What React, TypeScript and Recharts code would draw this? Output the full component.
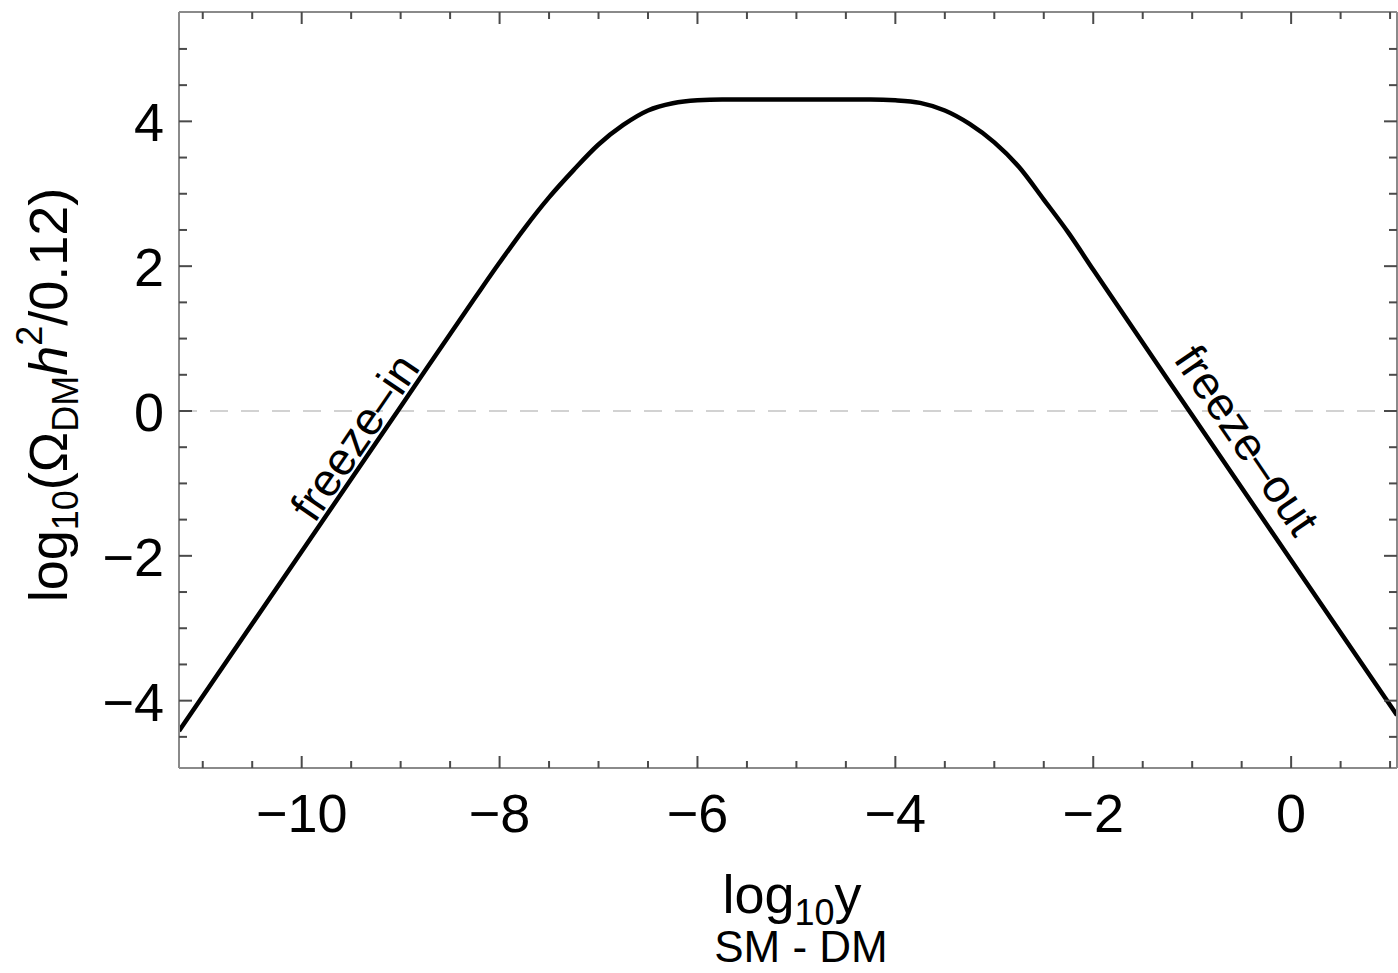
import React from "react";
import { LineChart, Line, XAxis, YAxis, ReferenceLine, ReferenceDot } from "recharts";

// log10 y
const xValues = [-11.24, -10, -9, -8.25, -8, -7.75, -7.5, -7.25, -7, -6.75, -6.5, -6.25, -6, -5.75, -5, -4.25, -4, -3.75, -3.5, -3.25, -3, -2.75, -2.5, -2.25, -2, -1, 0, 1.07];
// log10(Omega_DM h^2 / 0.12)
const omegaValues = [-4.42, -1.94, 0.06, 1.56, 2.05, 2.52, 2.95, 3.33, 3.68, 3.95, 4.15, 4.25, 4.29, 4.3, 4.3, 4.3, 4.29, 4.255, 4.15, 3.965, 3.71, 3.37, 2.92, 2.46, 1.95, -0.06, -2.06, -4.2];

const xDomain = [-11.24, 1.07];
const yDomain = [-4.93, 5.51];
const xMajorTicks = [-10, -8, -6, -4, -2, 0];
const xAllTicks = [-11, -10.5, -10, -9.5, -9, -8.5, -8, -7.5, -7, -6.5, -6, -5.5, -5, -4.5, -4, -3.5, -3, -2.5, -2, -1.5, -1, -0.5, 0, 0.5, 1];
const yMajorTicks = [-4, -2, 0, 2, 4];
const yAllTicks = [-4.5, -4, -3.5, -3, -2.5, -2, -1.5, -1, -0.5, 0, 0.5, 1, 1.5, 2, 2.5, 3, 3.5, 4, 4.5, 5];

const annotations = [
  { text: "freeze–in", x: -9.465, y: -0.36, angle: -55.7 },
  { text: "freeze–out", x: -0.445, y: -0.4, angle: 55.7 },
];

const data = xValues.map((x, i) => ({ x, omega: omegaValues[i] }));

const FONT = "'Liberation Sans', Arial, sans-serif";
const FRAME = "#8a8a8a";
const TICK = "#4a4a4a";

const fmt = (v: number) => (v < 0 ? "\u2212" + Math.abs(v) : String(v));

const BottomTick = (props: any) => {
  const { x, y, payload } = props;
  const major = xMajorTicks.includes(payload.value);
  return (
    <g>
      <line x1={x} y1={y} x2={x} y2={y - (major ? 12 : 7)} stroke={TICK} strokeWidth={2} />
      {major && (
        <text x={x} y={y + 64} textAnchor="middle" fontSize={54} fontFamily={FONT} fill="#000">
          {fmt(payload.value)}
        </text>
      )}
    </g>
  );
};

const TopTick = (props: any) => {
  const { x, y, payload } = props;
  const major = xMajorTicks.includes(payload.value);
  return <line x1={x} y1={y} x2={x} y2={y + (major ? 12 : 7)} stroke={TICK} strokeWidth={2} />;
};

const LeftTick = (props: any) => {
  const { x, y, payload } = props;
  const major = yMajorTicks.includes(payload.value);
  return (
    <g>
      <line x1={x} y1={y} x2={x + (major ? 13 : 8)} y2={y} stroke={TICK} strokeWidth={2} />
      {major && (
        <text x={x - 15} y={y + 20} textAnchor="end" fontSize={54} fontFamily={FONT} fill="#000">
          {fmt(payload.value)}
        </text>
      )}
    </g>
  );
};

const RightTick = (props: any) => {
  const { x, y, payload } = props;
  const major = yMajorTicks.includes(payload.value);
  return <line x1={x} y1={y} x2={x - (major ? 13 : 8)} y2={y} stroke={TICK} strokeWidth={2} />;
};

export default function App() {
  return (
    <div style={{ position: "absolute", left: 0, top: 0, width: 1398, height: 973, background: "#fff" }}>
      <LineChart width={1398} height={973} data={data} margin={{ top: 11, right: 0, bottom: 204, left: 178 }}>
        <XAxis
          xAxisId="main"
          dataKey="x"
          type="number"
          domain={xDomain}
          allowDataOverflow
          ticks={xAllTicks}
          interval={0}
          height={1}
          tickSize={0}
          tickMargin={0}
          tickLine={false}
          tick={<BottomTick />}
          axisLine={{ stroke: FRAME, strokeWidth: 2 }}
        />
        <XAxis
          xAxisId="top"
          orientation="top"
          dataKey="x"
          type="number"
          domain={xDomain}
          allowDataOverflow
          ticks={xAllTicks}
          interval={0}
          height={1}
          tickSize={0}
          tickMargin={0}
          tickLine={false}
          tick={<TopTick />}
          axisLine={{ stroke: FRAME, strokeWidth: 2 }}
        />
        <YAxis
          yAxisId="main"
          type="number"
          domain={yDomain}
          allowDataOverflow
          ticks={yAllTicks}
          interval={0}
          width={1}
          tickSize={0}
          tickMargin={0}
          tickLine={false}
          tick={<LeftTick />}
          axisLine={{ stroke: FRAME, strokeWidth: 2 }}
        />
        <YAxis
          yAxisId="right"
          orientation="right"
          type="number"
          domain={yDomain}
          allowDataOverflow
          ticks={yAllTicks}
          interval={0}
          width={1}
          tickSize={0}
          tickMargin={0}
          tickLine={false}
          tick={<RightTick />}
          axisLine={{ stroke: FRAME, strokeWidth: 2 }}
        />
        <ReferenceLine
          xAxisId="main"
          yAxisId="main"
          y={0}
          stroke="#d2d2d2"
          strokeWidth={2}
          strokeDasharray="18 13"
        />
        <Line
          xAxisId="main"
          yAxisId="main"
          type="monotone"
          dataKey="omega"
          stroke="#000"
          strokeWidth={4.5}
          dot={false}
          activeDot={false}
          isAnimationActive={false}
        />
        {annotations.map((a) => (
          <ReferenceDot
            key={a.text}
            xAxisId="main"
            yAxisId="main"
            x={a.x}
            y={a.y}
            r={0}
            shape={(p: any) => (
              <text
                x={p.cx}
                y={p.cy}
                transform={`rotate(${a.angle}, ${p.cx}, ${p.cy})`}
                textAnchor="middle"
                dominantBaseline="central"
                fontSize={46}
                fontFamily={FONT}
                fill="#000"
              >
                {a.text}
              </text>
            )}
          />
        ))}
        <text x={792} y={913} textAnchor="middle" fontSize={54} fontFamily={FONT} fill="#000">
          log
          <tspan fontSize={36} dy={12}>10</tspan>
          <tspan dy={-12}>y</tspan>
        </text>
        <text x={801} y={962} textAnchor="middle" fontSize={44} fontFamily={FONT} fill="#000">
          SM - DM
        </text>
        <text
          x={67}
          y={395}
          transform="rotate(-90, 67, 395)"
          textAnchor="middle"
          fontSize={54}
          fontFamily={FONT}
          fill="#000"
        >
          log
          <tspan fontSize={36} dy={11}>10</tspan>
          <tspan dy={-11}>(Ω</tspan>
          <tspan fontSize={36} dy={11}>DM</tspan>
          <tspan dy={-11} fontStyle="italic">h</tspan>
          <tspan fontSize={36} dy={-25}>2</tspan>
          <tspan dy={25}>/0.12)</tspan>
        </text>
      </LineChart>
    </div>
  );
}
